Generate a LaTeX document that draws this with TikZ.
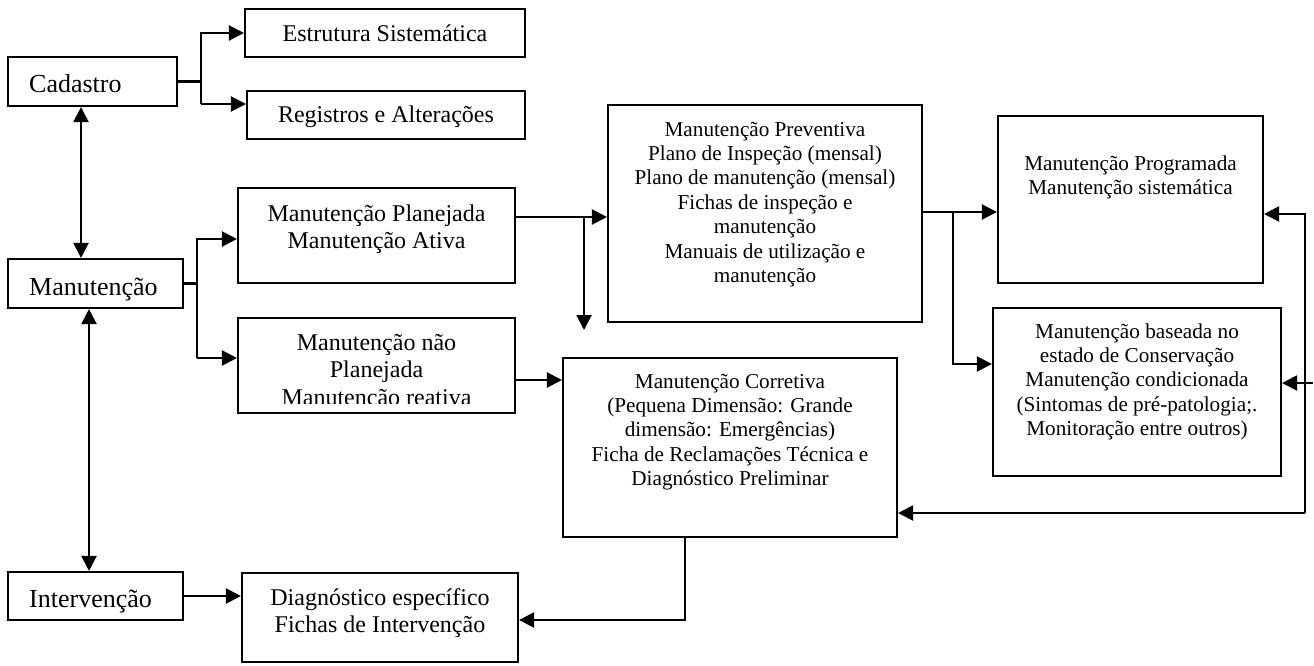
\documentclass[tikz,border=0pt]{standalone}
\usepackage{fontspec}
\setmainfont{Liberation Serif}
\usetikzlibrary{arrows.meta}
\begin{document}
\begin{tikzpicture}[x=1pt,y=-1pt,
  box/.style={draw, line width=2.1pt, inner sep=0pt, rectangle},
  conn/.style={line width=2.1pt},
  arr/.style={conn, -{Triangle[length=15pt,width=15pt]}},
  biarr/.style={conn, {Triangle[length=15pt,width=15pt]}-{Triangle[length=15pt,width=15pt]}},
  lbig/.style={font=\fontsize{26}{30}\selectfont, inner sep=0pt},
  lmid/.style={font=\fontsize{24}{27.6}\selectfont, inner sep=0pt, align=center},
  lsml/.style={font=\fontsize{21.2}{24.4}\selectfont, inner sep=0pt, align=center}]
\useasboundingbox (0,0) rectangle (1314,666);

% boxes
\node[box, minimum width=169pt, minimum height=49pt] (cad) at (92.5,81.5) {};
\node[box, minimum width=280pt, minimum height=48pt] (est) at (385,33) {};
\node[box, minimum width=278pt, minimum height=48pt] (reg) at (386,115) {};
\node[box, minimum width=175pt, minimum height=49pt] (man) at (95.5,283.5) {};
\node[box, minimum width=277pt, minimum height=95pt] (plan) at (376.5,235.5) {};
\node[box, minimum width=277pt, minimum height=95pt] (nplan) at (376.5,365.5) {};
\node[box, minimum width=314pt, minimum height=217pt] (prev) at (765,213.5) {};
\node[box, minimum width=265pt, minimum height=167pt] (prog) at (1130.5,199.5) {};
\node[box, minimum width=288pt, minimum height=168pt] (base) at (1137,392) {};
\node[box, minimum width=334pt, minimum height=179pt] (corr) at (730,447.5) {};
\node[box, minimum width=175pt, minimum height=48pt] (inter) at (95.5,596) {};
\node[box, minimum width=276pt, minimum height=89pt] (diag) at (380,617.5) {};

% texts
\node[lbig, anchor=base west] (tcad) at (29,93) {Cadastro};
\node[lbig, anchor=base west] (tman) at (29,295) {Manutenção};
\node[lbig, anchor=base west] (tinter) at (29,607) {Intervenção};
\node[lmid, anchor=base] (test) at (385,42) {Estrutura Sistemática};
\node[lmid, anchor=base] (treg) at (386,123) {Registros e Alterações};
\node[lmid, anchor=north] (tplan) at (376.5,201.7) {\strut Manutenção Planejada\\Manutenção Ativa};
\begin{scope}
  \clip (238,318) rectangle (515,403);
  \node[lmid, anchor=north] (tnplan) at (376.5,330.7) {\strut Manutenção não\\Planejada\\Manutenção reativa};
\end{scope}
\node[lsml, anchor=north] (tprev) at (765,118.9) {\strut Manutenção Preventiva\\Plano de Inspeção (mensal)\\Plano de manutenção (mensal)\\Fichas de inspeção e\\manutenção\\Manuais de utilização e\\manutenção};
\node[lsml, anchor=north] (tprog) at (1130.5,152.9) {\strut Manutenção Programada\\Manutenção sistemática};
\node[lsml, anchor=north] (tbase) at (1137,320.9) {\strut Manutenção baseada no\\estado de Conservação\\Manutenção condicionada\\(Sintomas de pré-patologia;.\\Monitoração entre outros)};
\node[lsml, anchor=north] (tcorr) at (730,370.9) {\strut Manutenção Corretiva\\(Pequena Dimensão: Grande\\dimensão: Emergências)\\Ficha de Reclamações Técnica e\\Diagnóstico Preliminar};
\node[lmid, anchor=north] (tdiag) at (380,585.7) {\strut Diagnóstico específico\\Fichas de Intervenção};

% junction coordinates
\coordinate (jc1) at (201,33);
\coordinate (jc2) at (201,104);
\coordinate (jm1) at (197,239);
\coordinate (jm2) at (197,358);
\coordinate (jp) at (584,217);
\coordinate (jpd) at (584,330);
\coordinate (ync) at (540,380);
\coordinate (jr) at (953,212);
\coordinate (jr2) at (953,364);
\coordinate (rl1) at (1305,214);
\coordinate (rl2) at (1305,513);
\coordinate (rl3) at (1313,383);
\coordinate (cd) at (685,620);
\coordinate (v1) at (81,0);
\coordinate (v2) at (89,0);

% Cadastro branch
\draw[conn] (cad.east) -- (cad.east -| jc1);
\draw[arr] (jc2) -- (jc1) -- (est.west);
\draw[arr] (jc2) -- (jc2 -| reg.west);

% Manutencao branch
\draw[conn] (man.east) -- (man.east -| jm1);
\draw[arr] (jm2) -- (jm1) -- (jm1 -| plan.west);
\draw[arr] (jm2) -- (jm2 -| nplan.west);

% Planejada -> Preventiva
\draw[arr] (jp -| plan.east) -- (jp -| prev.west);
\draw[arr] (jp) -- (jpd);

% Nao planejada -> Corretiva
\draw[arr] (ync -| nplan.east) -- (ync -| corr.west);

% Preventiva -> Programada / baseada
\draw[arr] (jr -| prev.east) -- (jr -| prog.west);
\draw[arr] (jr) -- (jr2) -- (jr2 -| base.west);

% right loop
\draw[arr] (rl2) -- (rl1) -- (rl1 -| prog.east);
\draw[arr] (rl2) -- (rl2 -| corr.east);
\draw[arr] (rl3) -- (rl3 -| base.east);

% Corretiva -> Diagnostico
\draw[arr] (corr.south -| cd) -- (cd) -- (cd -| diag.east);

% Intervencao -> Diagnostico
\draw[arr] (inter.east) -- (inter.east -| diag.west);

% vertical bi-arrows
\draw[biarr] (v1 |- cad.south) -- (v1 |- man.north);
\draw[biarr] (v2 |- man.south) -- (v2 |- inter.north);
\end{tikzpicture}
\end{document}
